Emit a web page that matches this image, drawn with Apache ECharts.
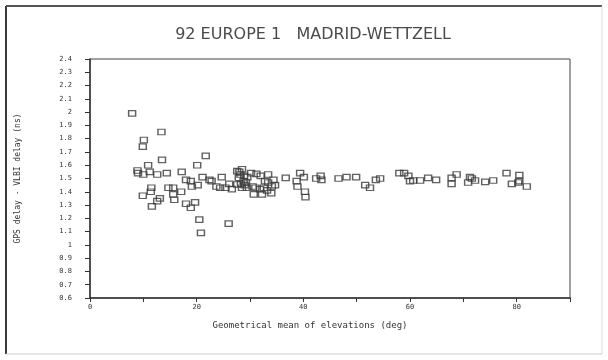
<!DOCTYPE html>
<html>
<head>
<meta charset="utf-8">
<style>html,body{margin:0;padding:0;background:#fff;}#c{width:608px;height:360px;}</style>
<script src="https://cdn.jsdelivr.net/npm/echarts@6/dist/echarts.min.js"></script>
</head>
<body>
<div id="c"></div>
<script>
// Geometrical mean of elevations (deg)
const elevations = [
  7.9,13.4,10.1,9.9,13.5,21.7,20.1,10.9,
  8.9,9.0,10.0,11.2,12.6,14.4,17.2,
  18.0,18.9,19.1,20.2,21.1,22.4,24.7,
  26.1,23.7,24.4,25.4,26.6,22.8,
  14.7,15.6,11.5,11.4,9.9,13.1,12.6,11.6,
  15.6,15.8,17.1,18.0,18.9,19.7,
  20.5,20.8,26.0,
  27.6,28.5,27.9,27.6,28.5,29.4,29.25,28.2,28.8,28.0,28.9,29.5,28.3,29.0,
  30.2,31.2,32.0,
  30.7,32.25,30.5,31.0,31.9,
  32.8,33.4,32.6,34.0,33.2,34.1,
  33.4,34.4,34.7,
  36.7,
  39.4,40.1,38.75,38.9,40.3,40.4,
  42.4,43.25,43.4,
  46.6,48.1,49.9,
  51.6,52.5,
  53.6,54.4,
  58.0,58.9,59.7,60.0,60.6,61.9,
  63.4,64.9,
  67.8,68.75,67.8,
  70.9,71.6,72.2,71.25,
  74.1,75.6,
  78.1,80.5,79.1,80.3,80.5,81.9
];
// GPS delay - VLBI delay (ns)
const delays = [
  1.99,1.85,1.79,1.74,1.64,1.67,1.60,1.60,
  1.56,1.54,1.53,1.55,1.53,1.54,1.55,
  1.49,1.48,1.44,1.45,1.51,1.49,1.51,
  1.46,1.44,1.43,1.43,1.42,1.48,
  1.43,1.43,1.43,1.40,1.37,1.35,1.33,1.29,
  1.38,1.34,1.40,1.31,1.28,1.32,
  1.19,1.09,1.16,
  1.555,1.57,1.505,1.455,1.43,1.43,1.47,1.53,1.48,1.55,1.52,1.51,1.46,1.45,
  1.54,1.535,1.52,
  1.38,1.38,1.44,1.43,1.42,
  1.48,1.47,1.43,1.39,1.41,1.44,
  1.53,1.49,1.45,
  1.505,
  1.54,1.51,1.48,1.44,1.40,1.36,
  1.50,1.52,1.49,
  1.50,1.51,1.51,
  1.45,1.43,
  1.49,1.50,
  1.54,1.54,1.52,1.48,1.485,1.485,
  1.505,1.49,
  1.505,1.53,1.46,
  1.47,1.50,1.485,1.51,
  1.475,1.485,
  1.54,1.525,1.46,1.47,1.48,1.44
];
const xTickLabels = [0,20,40,60,80];
const yTickLabels = ['0.6','0.7','0.8','0.9','1','1.1','1.2','1.3','1.4','1.5','1.6','1.7','1.8','1.9','2','2.1','2.2','2.3','2.4'];

const points = elevations.map((x,i)=>[x, delays[i]]);
const mono = 'DejaVu Sans Mono';
const chart = echarts.init(document.getElementById('c'), null, {renderer:'canvas'});
chart.setOption({
  animation:false,
  backgroundColor:'#fff',
  title:{
    text:'92 EUROPE 1   MADRID-WETTZELL',
    left:308, top:22, textAlign:'center',
    textStyle:{fontFamily:'DejaVu Sans', fontSize:16, fontWeight:'normal', color:'#4a4a4a'}
  },
  graphic:[
    {type:'line', shape:{x1:6,y1:6,x2:6,y2:354}, style:{stroke:'#3a3a3a', lineWidth:2}},
    {type:'line', shape:{x1:6,y1:6,x2:602,y2:6}, style:{stroke:'#555', lineWidth:2}},
    {type:'line', shape:{x1:602,y1:6,x2:602,y2:354}, style:{stroke:'#ddd', lineWidth:1}},
    {type:'line', shape:{x1:6,y1:354,x2:602,y2:354}, style:{stroke:'#ccc', lineWidth:1}}
  ],
  grid:{left:90, right:38, top:59, bottom:62, show:true, borderColor:'#444', borderWidth:1, backgroundColor:'transparent'},
  xAxis:{
    type:'value', min:0, max:90, interval:10,
    name:'Geometrical mean of elevations (deg)',
    nameLocation:'middle', nameGap:23,
    nameTextStyle:{fontFamily:mono, fontSize:9, color:'#333', padding:[0,40,0,0]},
    axisLine:{show:true, onZero:false, lineStyle:{color:'#333', width:1.5}},
    axisTick:{show:true, inside:false, length:4, lineStyle:{color:'#333', width:1}},
    axisLabel:{fontFamily:mono, fontSize:7, color:'#333', margin:6,
      formatter:v => xTickLabels.indexOf(v) >= 0 ? String(v) : ''},
    splitLine:{show:false}
  },
  yAxis:{
    type:'value', min:0.6, max:2.4, interval:0.1,
    name:'GPS delay - VLBI delay (ns)',
    nameLocation:'middle', nameGap:68,
    nameTextStyle:{fontFamily:mono, fontSize:8, color:'#333'},
    axisLine:{show:true, onZero:false, lineStyle:{color:'#333', width:1.5}},
    axisTick:{show:true, inside:false, length:5, lineStyle:{color:'#333', width:1}},
    axisLabel:{fontFamily:mono, fontSize:7, color:'#333', margin:18,
      formatter:v => { const i = Math.round((v-0.6)/0.1); return yTickLabels[i] !== undefined ? yTickLabels[i] : ''; }},
    splitLine:{show:false}
  },
  series:[{
    type:'scatter',
    data:points,
    symbol:'rect',
    symbolSize:[7,5.5],
    itemStyle:{color:'rgba(255,255,255,0)', borderColor:'#3a3a3a', borderWidth:1.3},
    emphasis:{disabled:true}
  }]
});
</script>
</body>
</html>
